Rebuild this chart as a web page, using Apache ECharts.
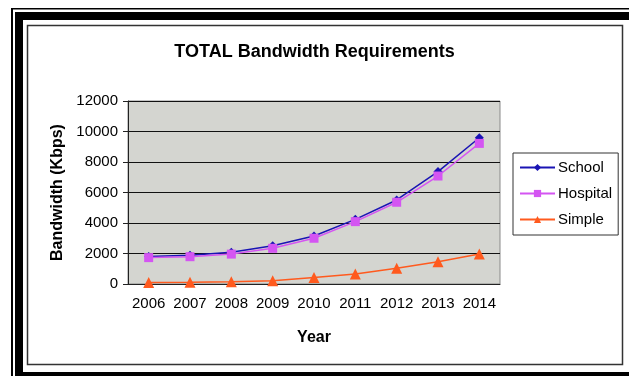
<!DOCTYPE html>
<html>
<head>
<meta charset="utf-8">
<script src="https://cdn.jsdelivr.net/npm/echarts@6/dist/echarts.min.js"></script>
<style>
  html, body { margin: 0; padding: 0; background: #fff; }
  #chart { width: 629px; height: 376px; }
</style>
</head>
<body>
<div id="chart"></div>
<script>
// Years on the x axis
const years = ['2006', '2007', '2008', '2009', '2010', '2011', '2012', '2013', '2014'];
// Bandwidth requirement per site type, in Kbps
const school = [1800, 1880, 2080, 2510, 3150, 4240, 5510, 7370, 9590];
const hospital = [1730, 1790, 1960, 2340, 3000, 4090, 5360, 7080, 9220];
const simple = [100, 120, 150, 220, 430, 660, 1030, 1460, 1960];

const FONT = '"Liberation Sans", Arial, sans-serif';

const chart = echarts.init(document.getElementById('chart'), null, { renderer: 'canvas' });

chart.setOption({
  backgroundColor: '#ffffff',
  animation: false,
  textStyle: { fontFamily: FONT, color: '#000' },
  title: {
    text: 'TOTAL Bandwidth Requirements',
    left: 'center',
    top: 38,
    textStyle: { fontFamily: FONT, fontSize: 18, fontWeight: 'bold', color: '#000' }
  },
  // Page frame: thin outer rule, heavy rule, and the chart's own border
  graphic: [
    { type: 'rect', shape: { x: 11, y: 8, width: 2, height: 368 }, style: { fill: '#000' } },
    { type: 'rect', shape: { x: 11, y: 8, width: 618, height: 1.5 }, style: { fill: '#000' } },
    { type: 'rect', shape: { x: 15, y: 12, width: 8, height: 364 }, style: { fill: '#000' } },
    { type: 'rect', shape: { x: 15, y: 12, width: 614, height: 8 }, style: { fill: '#000' } },
    { type: 'rect', shape: { x: 15, y: 372, width: 614, height: 4 }, style: { fill: '#000' } },
    { type: 'rect', shape: { x: 27.5, y: 25.5, width: 595, height: 339 },
      style: { fill: 'none', stroke: '#333', lineWidth: 1.5 } }
  ],
  grid: {
    left: 128, right: 129, top: 101, bottom: 92,
    show: true,
    backgroundColor: '#d4d5d0',
    borderColor: '#8a8a8a',
    borderWidth: 1
  },
  legend: {
    orient: 'vertical',
    left: 513,
    top: 153,
    width: 105,
    padding: [7, 6, 8, 6],
    itemGap: 11,
    itemWidth: 35,
    itemHeight: 9,
    borderColor: '#333',
    borderWidth: 1,
    backgroundColor: '#fff',
    textStyle: { fontFamily: FONT, fontSize: 15, color: '#000', padding: [0, 0, 0, -2] },
    data: ['School', 'Hospital', 'Simple']
  },
  xAxis: {
    type: 'category',
    data: years,
    boundaryGap: true,
    name: 'Year',
    nameLocation: 'middle',
    nameGap: 46,
    nameTextStyle: { fontFamily: FONT, fontSize: 16, fontWeight: 'bold', color: '#000' },
    axisLine: { lineStyle: { color: '#222', width: 1 } },
    axisTick: { length: 5, lineStyle: { color: '#222' } },
    axisLabel: { interval: 0, hideOverlap: false, fontFamily: FONT, fontSize: 15, color: '#000', margin: 12 },
    splitLine: { show: false }
  },
  yAxis: {
    type: 'value',
    min: 0,
    max: 12000,
    interval: 2000,
    name: 'Bandwidth (Kbps)',
    nameLocation: 'middle',
    nameGap: 58,
    nameTextStyle: { fontFamily: FONT, fontSize: 16, fontWeight: 'bold', color: '#000' },
    axisLine: { show: true, lineStyle: { color: '#222', width: 1 } },
    axisTick: { show: true, length: 5, lineStyle: { color: '#222' } },
    axisLabel: { fontFamily: FONT, fontSize: 15, color: '#000', margin: 10,
      formatter: function (v) { return String(v); } },
    splitLine: { show: true, lineStyle: { color: '#111', width: 1 } }
  },
  series: [
    {
      name: 'School',
      type: 'line',
      data: school,
      symbol: 'diamond',
      symbolSize: 9,
      color: '#1a14b4',
      lineStyle: { width: 1.5, color: '#1a14b4' },
      itemStyle: { color: '#1a14b4' }
    },
    {
      name: 'Hospital',
      type: 'line',
      data: hospital,
      symbol: 'rect',
      symbolSize: 9,
      color: '#d455f2',
      lineStyle: { width: 1.5, color: '#d455f2' },
      itemStyle: { color: '#d455f2' }
    },
    {
      name: 'Simple',
      type: 'line',
      data: simple,
      symbol: 'triangle',
      symbolSize: 11,
      color: '#ff5a1e',
      lineStyle: { width: 1.5, color: '#ff5a1e' },
      itemStyle: { color: '#ff5a1e' }
    }
  ]
});
</script>
</body>
</html>
